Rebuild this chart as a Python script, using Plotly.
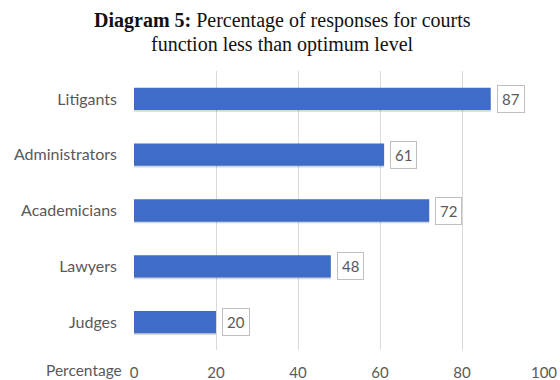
import plotly.graph_objects as go

# Survey groups (top to bottom) and the share of responses per group
groups = ["Litigants", "Administrators", "Academicians", "Lawyers", "Judges"]
percent = [87, 61, 72, 48, 20]
x_ticks = [0, 20, 40, 60, 80, 100]

# plotly draws categories bottom-up, so reverse for display order
cats = groups[::-1]
vals = percent[::-1]

LABEL_FONT = "Lato, Open Sans, sans-serif"
TITLE_FONT = "Liberation Serif, Times New Roman, serif"
title_lines = [
    "<b>Diagram 5:</b> Percentage of responses for courts",
    "function less than optimum level",
]

fig = go.Figure()

# soft drop shadow under each bar
fig.add_trace(go.Bar(
    y=cats, x=vals, orientation="h",
    marker=dict(color="rgba(0,0,0,0.16)", line=dict(width=0)),
    width=0.4, offset=-0.23, hoverinfo="skip", showlegend=False,
))
fig.add_trace(go.Bar(
    y=cats, x=vals, orientation="h",
    marker=dict(color="#3E6CC7", line=dict(width=0)),
    width=0.4, offset=-0.2, showlegend=False,
))

for c, v in zip(cats, vals):
    fig.add_annotation(
        x=v, y=c, text=str(v), showarrow=False,
        xanchor="left", xshift=6,
        font=dict(family=LABEL_FONT, size=15, color="#595959"),
        bgcolor="white", bordercolor="#BFBFBF", borderwidth=1, borderpad=4,
    )

# axis caption to the left of the first tick label
fig.add_annotation(
    xref="paper", yref="paper", x=0, xshift=-10, y=0, yshift=-20,
    text="Percentage", showarrow=False, xanchor="right", yanchor="middle",
    font=dict(family=LABEL_FONT, size=15.5, color="#595959"),
)

# two-line heading, centred on the page rather than on the plot area
for line, shift in zip(title_lines, [51, 27]):
    fig.add_annotation(
        xref="paper", yref="paper", x=0.5, xshift=-57, y=1, yshift=shift,
        text=line, showarrow=False, xanchor="center", yanchor="middle",
        font=dict(family=TITLE_FONT, size=20, color="#111111"),
    )

fig.update_layout(
    width=560, height=380,
    margin=dict(l=134, r=16, t=71, b=30),
    paper_bgcolor="white", plot_bgcolor="white",
    barmode="overlay",
    xaxis=dict(
        range=[0, 100], tickvals=x_ticks, showgrid=True, gridcolor="#D9D9D9",
        gridwidth=1, zeroline=False, showline=False, ticks="", automargin=False,
        tickfont=dict(family=LABEL_FONT, size=15, color="#595959"),
        ticklabelstandoff=12,
    ),
    yaxis=dict(
        showgrid=False, zeroline=False, showline=False, ticks="", automargin=False,
        tickfont=dict(family=LABEL_FONT, size=16, color="#595959"),
        ticklabelstandoff=16,
    ),
)

fig.write_html("out.html")
